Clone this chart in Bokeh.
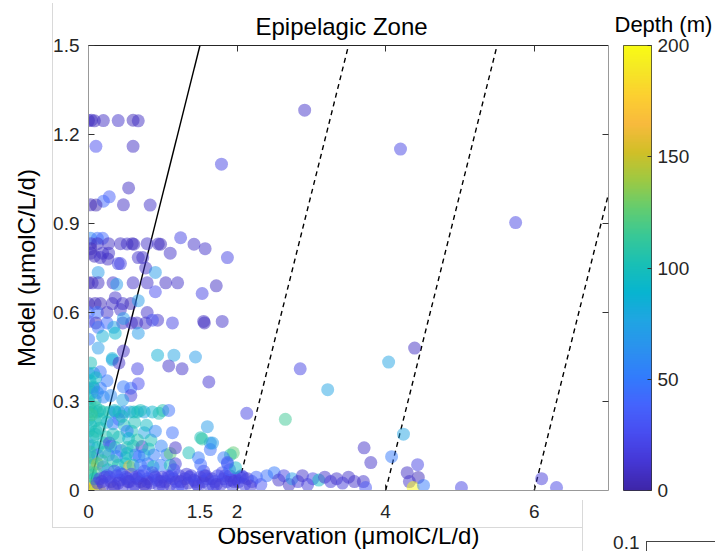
import numpy as np
from bokeh.plotting import figure
from bokeh.layouts import row
from bokeh.models import (ColumnDataSource, LinearColorMapper, FixedTicker, LinearAxis,
                          Range1d, CustomJSTickFormatter, InlineStyleSheet)
from bokeh.embed import file_html
from bokeh.resources import INLINE

# ---------------- data (observation, model, depth) ----------------
obs_far = [2.91, 4.20, 5.75, 1.79, 4.39, 4.04, 2.85, 3.22, 2.13, 2.65, 4.24, 4.08, 4.43,
           4.29, 4.44, 4.32, 4.37, 4.51, 5.02, 6.10, 6.30, 3.71, 3.80, 3.70, 3.73]
mod_far = [1.282, 1.151, 0.903, 1.10, 0.48, 0.433, 0.41, 0.34, 0.26, 0.24, 0.19, 0.114, 0.087,
           0.06, 0.044, 0.03, 0.01, 0.017, 0.01, 0.04, 0.01, 0.144, 0.094, 0.03, 0.01]
dep_far = [10, 20, 20, 20, 8, 75, 20, 75, 20, 115, 75, 50, 20,
           8, 5, 10, 200, 50, 20, 15, 20, 10, 10, 10, 30]

obs_mid = [1.87, 1.72, 1.53, 1.56, 1.55, 1.80, 1.44, 1.62, 1.42, 1.57, 1.24, 1.10, 1.13,
           1.04, 1.20, 1.15, 1.08, 1.26, 0.93, 1.08, 1.60, 1.13, 1.51, 1.64, 1.17, 1.64,
           1.35, 1.48, 1.95, 1.91, 1.82, 1.87, 1.98, 1.53, 1.67, 1.51, 1.87]
mod_mid = [0.785, 0.69, 0.664, 0.565, 0.57, 0.57, 0.45, 0.366, 0.83, 0.815, 0.852, 0.80, 0.565,
           0.70, 0.70, 0.456, 0.42, 0.41, 0.456, 0.27, 0.215, 0.195, 0.178, 0.16, 0.144, 0.138,
           0.127, 0.11, 0.127, 0.12, 0.11, 0.09, 0.077, 0.174, 0.16, 0.087, 0.094]
dep_mid = [20, 8, 20, 5, 8, 10, 70, 12, 10, 10, 20, 10, 20,
           8, 10, 75, 10, 10, 85, 45, 70, 45, 100, 70, 10, 45,
           100, 50, 125, 110, 50, 45, 95, 110, 70, 40, 30]

obs_rows = [0.00, 0.04, 0.08, 0.20, 0.40, 0.60, 0.67, 0.10, 0.60, 0.54, 0.28, 0.20,
            0.03, 0.10, 0.47, 0.83, 0.03, 0.12, 0.19,
            0.27, 0.43, 0.52, 0.59, 0.61, 0.79, 0.94, 0.97, 0.12, 0.03,
            0.03, 0.03, 0.19, 0.27, 0.08, 0.43, 0.73, 0.77, 0.90, 0.13,
            0.16, 0.26, 0.67, 0.40,
            0.00, 0.05, 0.13, 0.33, 0.38, 0.60, 0.79, 0.90,
            0.00, 0.09, 0.16, 0.32, 0.46, 0.57, 0.67, 0.36,
            0.00, 0.12, 0.25, 0.43, 0.79, 0.93, 0.86,
            0.10, 0.25, 0.46, 0.58, 0.65, 0.77,
            0.00, 0.13, 0.34, 0.47, 0.67, 0.19, 0.00, 0.13, 0.47, 0.32,
            0.41, 0.66, 0.36]
mod_rows = [1.247, 1.248, 1.246, 1.247, 1.247, 1.248, 1.246, 1.16, 1.16, 1.02, 0.99, 0.975,
            0.963, 0.962, 0.963, 0.962, 0.85, 0.85, 0.85,
            0.832, 0.832, 0.831, 0.832, 0.830, 0.832, 0.831, 0.830, 0.832, 0.832,
            0.815, 0.80, 0.80, 0.80, 0.79, 0.765, 0.785, 0.75, 0.735, 0.735,
            0.785, 0.78, 0.785, 0.765,
            0.70, 0.70, 0.70, 0.70, 0.695, 0.70, 0.70, 0.67,
            0.63, 0.63, 0.63, 0.63, 0.63, 0.63, 0.64, 0.65,
            0.60, 0.60, 0.60, 0.61, 0.60, 0.574, 0.574,
            0.565, 0.565, 0.565, 0.565, 0.565, 0.565,
            0.57, 0.55, 0.55, 0.58, 0.53, 0.52, 0.51, 0.48, 0.47, 0.445,
            0.43, 0.41, 0.53]
dep_rows = [5, 10, 5, 8, 10, 5, 8, 25, 8, 8, 35, 40,
            5, 3, 8, 10, 60, 45, 40,
            8, 8, 10, 5, 8, 10, 10, 5, 8, 10,
            5, 8, 10, 10, 5, 20, 10, 10, 70, 70,
            10, 8, 10, 20,
            5, 5, 8, 10, 70, 10, 10, 25,
            5, 5, 5, 8, 10, 5, 70, 10,
            40, 45, 10, 10, 10, 10, 30,
            5, 40, 10, 10, 8, 10,
            30, 45, 75, 70, 70, 85, 45, 70, 10, 85,
            10, 20, 90]

obs_clu = [0.00, 0.07, 0.16, 0.32, 0.00, 0.07, 0.16, 0.47, 0.57, 0.67, 0.57, 0.46,
           0.00, 0.09, 0.20,
           0.00, 0.05, 0.12, 0.20, 0.28, 0.36, 0.41, 0.48, 0.56, 0.61, 0.66, 0.75, 0.00,
           0.86, 0.95, 1.00,
           0.00, 0.09, 0.16, 0.25, 0.33, 0.41, 0.48, 0.58, 0.52, 0.75, 0.00, 0.09, 0.24,
           0.41, 0.54,
           0.00, 0.05, 0.12, 0.20, 0.30, 0.28, 0.36, 0.44, 0.52, 0.60, 0.72, 0.81, 0.88,
           1.05, 1.10, 0.98, 0.75, 0.63, 0.68, 0.50, 0.38, 0.27, 0.12, 0.00, 0.05,
           0.00, 0.06, 0.12, 0.20, 0.40, 0.50, 0.55, 0.60, 0.70, 0.80, 0.87, 0.97, 1.10, 1.17,
           0.02, 0.05, 0.02, 0.10, 0.03, 0.06, 0.02, 0.10, 0.15, 0.04,
           0.15, 0.22, 0.33, 0.35, 0.45, 0.52, 0.62, 0.66, 0.70, 0.78, 0.84, 0.90,
           0.03, 0.10, 0.18, 0.26, 0.33, 0.42, 0.06, 0.10, 0.03, 0.12, 0.25, 0.30]
mod_clu = [0.395, 0.395, 0.40, 0.44, 0.345, 0.345, 0.345, 0.35, 0.345, 0.36, 0.32, 0.305,
           0.31, 0.305, 0.315,
           0.265, 0.265, 0.265, 0.265, 0.265, 0.265, 0.265, 0.265, 0.265, 0.265, 0.265, 0.265, 0.28,
           0.265, 0.26, 0.27,
           0.24, 0.235, 0.24, 0.23, 0.225, 0.24, 0.22, 0.20, 0.20, 0.195, 0.20, 0.19, 0.18,
           0.18, 0.175,
           0.155, 0.15, 0.145, 0.16, 0.15, 0.16, 0.145, 0.135, 0.145, 0.15, 0.148, 0.14, 0.12,
           0.12, 0.125, 0.15, 0.12, 0.12, 0.115, 0.11, 0.115, 0.12, 0.12, 0.115, 0.11,
           0.09, 0.085, 0.09, 0.08, 0.085, 0.09, 0.08, 0.085, 0.085, 0.09, 0.08, 0.085, 0.085, 0.09,
           0.37, 0.33, 0.29, 0.28, 0.22, 0.18, 0.13, 0.20, 0.27, 0.255,
           0.21, 0.13, 0.19, 0.27, 0.25, 0.125, 0.23, 0.17, 0.27, 0.22, 0.17, 0.20,
           0.06, 0.06, 0.10, 0.07, 0.10, 0.06, 0.35, 0.38, 0.43, 0.33, 0.37, 0.32]
dep_clu = [50, 90, 45, 75, 50, 50, 50, 50, 45, 25, 15, 75,
           95, 100, 55,
           100, 100, 95, 110, 100, 50, 100, 55, 75, 100, 95, 75, 100,
           90, 100, 105,
           100, 110, 100, 95, 50, 45, 100, 100, 50, 75, 100, 95, 105,
           100, 90,
           50, 100, 95, 100, 50, 20, 100, 45, 105, 100, 10, 100, 50,
           50, 125, 55, 75, 45, 50, 100, 50, 50, 45, 50, 100,
           130, 105, 140, 45, 100, 95, 160, 100, 50, 45, 95, 50, 100, 15,
           95, 100, 105, 110, 95, 100, 110, 105, 100, 115,
           100, 105, 100, 95, 100, 95, 100, 105, 100, 95, 100, 55,
           120, 115, 110, 100, 105, 55, 100, 95, 100, 60, 50, 60]

obs_band = [0.15, 0.20, 0.25, 0.30, 0.35, 0.38, 0.42, 0.47, 0.50, 0.55, 0.58, 0.62, 0.66,
            0.70, 0.73, 0.77, 0.80, 0.84, 0.88, 0.92, 0.95, 0.99, 1.03, 1.07, 1.10, 1.14,
            1.18, 1.22, 1.26, 1.30, 1.34, 1.38, 1.42, 1.46, 1.50, 1.54, 1.58, 1.62, 1.66,
            1.70, 1.74, 1.78, 1.82, 1.86, 1.90, 1.94, 1.98, 2.02, 2.06, 2.10, 2.14, 2.20,
            2.26, 2.32, 2.40, 2.50, 2.56, 2.63, 2.70, 2.74, 2.82, 2.88, 2.95, 3.02, 3.10,
            3.18, 3.26, 3.34, 3.42, 3.50, 3.58,
            0.12, 0.22, 0.33, 0.45, 0.53, 0.64, 0.75, 0.86, 0.97, 1.08, 1.20, 1.32, 1.44,
            1.56, 1.68, 1.80, 1.92, 2.04,
            0.18, 0.28, 0.40, 0.52, 0.60, 0.68, 0.79, 0.90, 1.00, 1.12, 1.24, 1.36, 1.48,
            1.60, 1.72, 1.84, 1.96, 2.08, 2.18, 0.35, 0.75, 1.15, 1.55, 1.90]
mod_band = [0.04, 0.02, 0.05, 0.03, 0.015, 0.05, 0.035, 0.02, 0.045, 0.03, 0.055, 0.02, 0.04,
            0.03, 0.05, 0.015, 0.04, 0.025, 0.05, 0.035, 0.015, 0.045, 0.03, 0.05, 0.02, 0.04,
            0.03, 0.05, 0.015, 0.04, 0.025, 0.05, 0.035, 0.02, 0.045, 0.03, 0.05, 0.02, 0.04,
            0.03, 0.05, 0.02, 0.04, 0.03, 0.05, 0.015, 0.04, 0.03, 0.05, 0.02, 0.04, 0.03,
            0.045, 0.02, 0.05, 0.06, 0.035, 0.05, 0.02, 0.04, 0.03, 0.05, 0.02, 0.04, 0.035,
            0.045, 0.03, 0.04, 0.025, 0.045, 0.03,
            0.025, 0.045, 0.01, 0.055, 0.03, 0.045, 0.02, 0.06, 0.03, 0.045, 0.01, 0.055, 0.03,
            0.05, 0.015, 0.06, 0.035, 0.045,
            0.03, 0.045, 0.025, 0.04, 0.01, 0.05, 0.03, 0.045, 0.015, 0.05, 0.03, 0.045, 0.015,
            0.04, 0.02, 0.05, 0.03, 0.045, 0.015, 0.065, 0.065, 0.07, 0.065, 0.07]
dep_band = [20, 15, 25, 20, 10, 20, 25, 15, 20, 10, 25, 20, 15,
            20, 25, 10, 20, 15, 20, 25, 20, 15, 20, 25, 10, 20,
            15, 20, 25, 20, 10, 20, 15, 20, 25, 20, 15, 20, 10,
            20, 25, 15, 20, 20, 10, 20, 25, 15, 20, 20, 10, 20,
            40, 30, 45, 50, 10, 20, 8, 70, 15, 10, 15, 20, 95,
            10, 15, 10, 15, 10, 10,
            15, 20, 10, 25, 15, 20, 10, 30, 15, 20, 25, 15, 20,
            10, 20, 25, 15, 20,
            15, 20, 15, 20, 15, 20, 15, 20, 15, 20, 15, 20, 15,
            20, 15, 20, 15, 20, 15, 30, 35, 30, 25, 35]

obs_yel = [0.00, 0.00, 0.05, 0.10, 0.15, 0.04, 0.08]
mod_yel = [0.02, 0.005, 0.015, 0.01, 0.00, 0.05, 0.04]
dep_yel = [200, 195, 175, 140, 185, 110, 100]

ref_offsets = [0, 2, 4, 6]
x_ticks = [0, 1.5, 2, 4, 6]
y_ticks = [0, 0.3, 0.6, 0.9, 1.2, 1.5]
cb_ticks = [0, 50, 100, 150, 200]
next_panel_ticks = [0.1]

# ---------------- parula colormap ----------------
par_idx = [0, 4, 8, 12, 16, 20, 24, 28, 32, 36, 40, 44, 48, 52, 56, 60, 63]
par_rgb = [(0.2422, 0.1504, 0.6603), (0.2706, 0.2147, 0.8364), (0.2813, 0.3006, 0.9414),
           (0.2699, 0.3892, 0.9906), (0.1963, 0.4847, 0.9892), (0.1687, 0.5703, 0.9359),
           (0.1248, 0.6459, 0.8883), (0.0297, 0.7082, 0.8163), (0.0964, 0.7500, 0.7120),
           (0.2161, 0.7843, 0.5923), (0.3909, 0.8029, 0.4354), (0.6174, 0.7876, 0.2612),
           (0.8203, 0.7498, 0.1535), (0.9728, 0.7298, 0.2394), (0.9892, 0.8136, 0.1885),
           (0.9597, 0.9135, 0.1423), (0.9769, 0.9839, 0.0805)]
t = np.linspace(0, 63, 256)
arr = np.array(par_rgb)
palette = []
for v in t:
    r, g, b = (np.interp(v, par_idx, arr[:, k]) for k in range(3))
    palette.append("#%02x%02x%02x" % (int(round(r * 255)), int(round(g * 255)), int(round(b * 255))))

mapper = LinearColorMapper(palette=palette, low=0, high=200)

FONT = "Liberation Sans"
TXT = "#262626"

# ---------------- main scatter plot ----------------
p = figure(width=612, height=551, x_range=Range1d(0, 7), y_range=Range1d(0, 1.5),
           output_backend="svg", toolbar_location=None,
           min_border_left=88, min_border_top=44, min_border_right=4, min_border_bottom=61)
p.grid.visible = False
p.outline_line_color = None
p.background_fill_color = "white"
p.border_fill_color = "white"

p.title.text = "Epipelagic Zone"
p.title.align = "left"
p.title.offset = 167
p.title.text_font = FONT
p.title.text_font_size = "24px"
p.title.text_font_style = "normal"
p.title.text_color = "#000000"
p.title.standoff = 12

fmt = CustomJSTickFormatter(code="return tick.toString()")
empty = CustomJSTickFormatter(code="return ''")

xa = p.xaxis[0]
xa.ticker = FixedTicker(ticks=x_ticks)
xa.formatter = fmt
xa.axis_label = "Observation (\u03bcmolC/L/d)"
ya = p.yaxis[0]
ya.ticker = FixedTicker(ticks=y_ticks)
ya.formatter = fmt
ya.axis_label = "Model (\u03bcmolC/L/d)"

for ax in (xa, ya):
    ax.major_label_text_font = FONT
    ax.major_label_text_font_size = "19px"
    ax.major_label_text_color = TXT
    ax.axis_label_text_font = FONT
    ax.axis_label_text_font_size = "24px"
    ax.axis_label_text_font_style = "normal"
    ax.axis_label_text_color = "#000000"
    ax.major_tick_in = 6
    ax.major_tick_out = 0
    ax.minor_tick_line_color = None
    ax.major_tick_line_color = "#333333"
    ax.axis_line_color = "#999999"
xa.major_label_standoff = 14
xa.axis_label_standoff = 1
ya.major_label_standoff = 9
ya.axis_label_standoff = 10

ra = LinearAxis(ticker=FixedTicker(ticks=[0.3, 0.6, 0.9, 1.2]), formatter=empty)
ta = LinearAxis(ticker=FixedTicker(ticks=[2, 4, 6]), formatter=empty)
for ax, col in ((ra, "#999999"), (ta, "#262626")):
    ax.major_tick_in = 6
    ax.major_tick_out = 0
    ax.minor_tick_line_color = None
    ax.major_tick_line_color = "#333333"
    ax.axis_line_color = col
    ax.major_label_standoff = 0
p.add_layout(ra, "right")
p.add_layout(ta, "above")

# reference lines y = x - k
for k in ref_offsets:
    p.line([k, k + 1.5], [0, 1.5], line_color="black", line_width=1.4,
           line_dash="solid" if k == 0 else "5 4")

groups = [(obs_clu, mod_clu, dep_clu), (obs_yel, mod_yel, dep_yel),
          (obs_band, mod_band, dep_band), (obs_rows, mod_rows, dep_rows),
          (obs_mid, mod_mid, dep_mid), (obs_far, mod_far, dep_far)]
for o, m, d in groups:
    src = ColumnDataSource(dict(obs=o, mod=m, depth=d))
    p.scatter("obs", "mod", source=src, size=13, line_color=None,
              fill_color={"field": "depth", "transform": mapper}, fill_alpha=0.5)

# faint frame lines of a neighbouring panel (as in the source figure)
p.stylesheets = [InlineStyleSheet(css="""
:host { position: relative; }
:host::before { content: ""; position: absolute; left: 52px; top: 3px; width: 530px; height: 525px;
  border-left: 1px solid #d9d9d9; border-bottom: 1px solid #d9d9d9; pointer-events: none; z-index: 5; }
:host::after { content: ""; position: absolute; left: 582px; top: 500px; width: 0; height: 51px;
  border-left: 1px solid #d9d9d9; pointer-events: none; z-index: 5; }
""")]

# ---------------- colour bar (as its own small plot) ----------------
cb = figure(width=104, height=551, x_range=Range1d(0, 1), y_range=Range1d(0, 200),
            output_backend="svg", toolbar_location=None, x_axis_location=None,
            y_axis_location="right", min_border_left=11, min_border_right=65,
            min_border_top=44, min_border_bottom=60)
cb.grid.visible = False
cb.border_fill_color = "white"
cb.image(image=[np.linspace(0, 200, 256).reshape(-1, 1)], x=0, y=0, dw=1, dh=200,
         color_mapper=mapper)
cb.outline_line_color = "#333333"
cb.outline_line_width = 1
cya = cb.yaxis[0]
cya.ticker = FixedTicker(ticks=cb_ticks)
cya.axis_line_color = None
cya.major_tick_in = 4
cya.major_tick_out = 0
cya.minor_tick_line_color = None
cya.major_tick_line_color = "#333333"
cya.major_label_standoff = 6
cya.major_label_text_font = FONT
cya.major_label_text_font_size = "19px"
cya.major_label_text_color = TXT
cb.title.text = "Depth (m)"
cb.title.align = "left"
cb.title.offset = -9
cb.title.text_font = FONT
cb.title.text_font_size = "22px"
cb.title.text_font_style = "normal"
cb.title.text_color = "#000000"
cb.title.standoff = 18

# tick label of the neighbouring panel that peeks in at the bottom right
na = LinearAxis(ticker=FixedTicker(ticks=next_panel_ticks), formatter=fmt)
na.axis_line_color = None
na.major_tick_line_color = None
na.minor_tick_line_color = None
na.major_label_standoff = 39
na.major_label_text_font = FONT
na.major_label_text_font_size = "19px"
na.major_label_text_color = TXT
cb.add_layout(na, "below")
cb.stylesheets = [InlineStyleSheet(css="""
:host { position: relative; }
:host::after { content: ""; position: absolute; left: 34px; top: 541px; width: 69px; height: 10px;
  border-left: 1px solid #444444; border-top: 1px solid #444444; pointer-events: none; z-index: 5; }
""")]

layout = row(p, cb, spacing=0)

open("out.html", "w").write(file_html(layout, INLINE))
